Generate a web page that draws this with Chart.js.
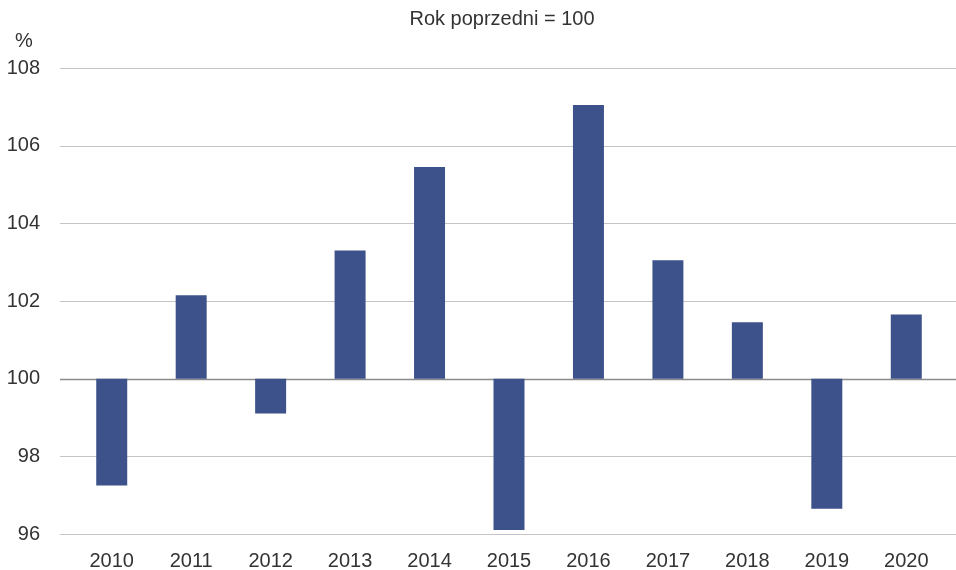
<!DOCTYPE html>
<html>
<head>
<meta charset="utf-8">
<script src="https://cdn.jsdelivr.net/npm/chart.js@4"></script>
<style>
  html, body { margin: 0; padding: 0; background: #fff; }
  #wrap { width: 956px; height: 570px; position: relative; }
</style>
</head>
<body>
<div id="wrap"><canvas id="c" width="956" height="570"></canvas></div>
<script>
const categories = ['2010','2011','2012','2013','2014','2015','2016','2017','2018','2019','2020'];
const values = [97.25, 102.15, 99.1, 103.3, 105.45, 96.1, 107.05, 103.05, 101.45, 96.65, 101.65];
const baseValue = 100;
const yTicks = [96, 98, 100, 102, 104, 106, 108];
const titleText = 'Rok poprzedni = 100';
const unitText = '%';

const FONT = '"Liberation Sans", Arial, sans-serif';
const TEXT_COLOR = '#333333';

const gridPlugin = {
  id: 'customGrid',
  beforeDatasetsDraw(chart) {
    const ctx = chart.ctx;
    const y = chart.scales.y;
    ctx.save();
    yTicks.forEach(t => {
      const py = Math.round(y.getPixelForValue(t)) + 0.5;
      ctx.beginPath();
      ctx.strokeStyle = t === baseValue ? '#8a8a8a' : '#c4c4c4';
      ctx.lineWidth = t === baseValue ? 1.5 : 1;
      ctx.moveTo(60, py);
      ctx.lineTo(956, py);
      ctx.stroke();
    });
    ctx.restore();
  },
  afterDraw(chart) {
    const ctx = chart.ctx;
    ctx.save();
    ctx.fillStyle = TEXT_COLOR;
    ctx.font = '20px ' + FONT;
    ctx.textAlign = 'center';
    ctx.textBaseline = 'middle';
    ctx.fillText(titleText, 502, 19);
    ctx.fillText(unitText, 24, 41);
    ctx.restore();
  }
};

new Chart(document.getElementById('c'), {
  type: 'bar',
  data: {
    labels: categories,
    datasets: [{
      data: values.map(v => [baseValue, v]),
      backgroundColor: '#3d528a',
      borderWidth: 0,
      barPercentage: 1,
      categoryPercentage: 0.39
    }]
  },
  options: {
    responsive: false,
    animation: false,
    layout: { padding: { top: 68, right: 10, left: 0, bottom: 0 } },
    plugins: { legend: { display: false }, tooltip: { enabled: false }, title: { display: false } },
    scales: {
      x: {
        grid: { display: false, drawTicks: false },
        border: { display: false },
        ticks: { color: TEXT_COLOR, font: { family: FONT, size: 20 }, padding: 15, maxRotation: 0 },
        afterFit(scale) { scale.height = 36; scale.paddingLeft = 0; scale.paddingRight = 0; }
      },
      y: {
        min: 96, max: 108,
        grid: { display: false, drawTicks: false },
        border: { display: false },
        afterBuildTicks(scale) { scale.ticks = yTicks.map(v => ({ value: v })); },
        ticks: { color: TEXT_COLOR, font: { family: FONT, size: 20 }, padding: 32 },
        afterFit(scale) { scale.width = 72; scale.paddingTop = 0; scale.paddingBottom = 0; }
      }
    }
  },
  plugins: [gridPlugin]
});
</script>
</body>
</html>
